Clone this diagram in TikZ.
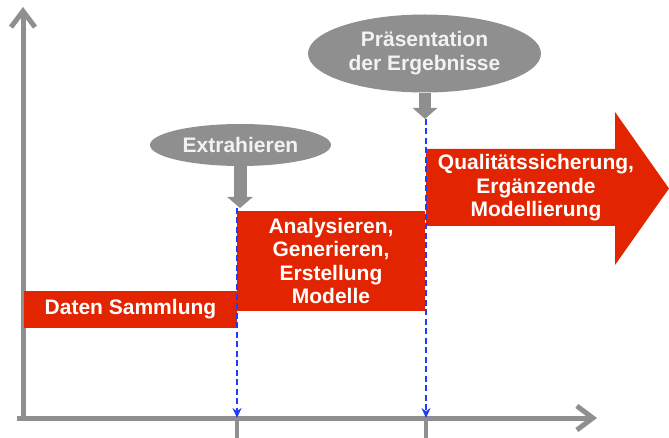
\documentclass[tikz,border=0pt]{standalone}
\usepackage{fontspec}
\setmainfont{Liberation Sans}
\usepackage{tikz}
\usetikzlibrary{positioning,shapes.geometric,arrows.meta,calc}
\definecolor{phasered}{HTML}{E32400}
\definecolor{stepgrey}{HTML}{8F8F8F}
\definecolor{guideblue}{HTML}{1E3CFF}

\begin{document}
\begin{tikzpicture}[x=1pt,y=-1pt,
    phase/.style={rectangle, fill=phasered, text=white, inner sep=0pt, align=center, font=\bfseries\fontsize{21}{23.5}\selectfont},
    milestone/.style={ellipse, fill=stepgrey, text=white!95!black, inner sep=0pt, align=center, font=\bfseries\fontsize{21}{24}\selectfont},
    pointer/.style={draw=stepgrey, line width=13pt, -{Triangle[length=11pt,width=25pt]}},
    axis/.style={draw=stepgrey, line width=5pt},
    guide/.style={draw=guideblue, dash pattern=on 6pt off 3.5pt, -{Stealth[length=10pt,width=9pt]}}]
    \useasboundingbox (0,0) rectangle (669,438);
    % axes
    \coordinate (origin) at (23,418);
    \coordinate (ytop) at (23,7);
    \coordinate (xstart) at (17,418);
    \coordinate (xend) at (597,418);
    \coordinate (tick1) at (237,418);
    \coordinate (tick1end) at (237,438);
    \coordinate (tick2) at (426,418);
    \coordinate (tick2end) at (426,438);
    \draw[axis, -{Straight Barb[length=16pt,width=24pt]}] (origin) -- (ytop);
    \draw[axis, -{Straight Barb[length=16pt,width=24pt]}] (xstart) -- (xend);
    \draw[axis, line width=4pt] (tick1) -- (tick1end);
    \draw[axis, line width=4pt] (tick2) -- (tick2end);
    % phases
    \node[phase, minimum width=213pt, minimum height=37pt] (datensammlung) at (130.5,309.5) {Daten Sammlung};
    \node[phase, minimum width=188pt, minimum height=100pt] (analyse) at (331,261) {Analysieren,\\Generieren,\\Erstellung\\Modelle};
    \fill[phasered] (426,149) -- (615,149) -- (615,112) -- (669,188.5) -- (615,265) -- (615,226) -- (426,226) -- cycle;
    \node[phase, fill=none] (quali) at (536,188) {Qualitätssicherung,\\Ergänzende\\Modellierung};
    % milestones
    \node[milestone, minimum width=181pt, minimum height=42pt] (extrahieren) at (240.5,145) {Extrahieren};
    \node[milestone, minimum width=233pt, minimum height=78pt] (praesentation) at (424.5,53.5) {Präsentation\\der Ergebnisse};
    \coordinate (extrahierentip) at (240,208);
    \coordinate (praesentationtip) at (425,119);
    \draw[pointer] (extrahieren.south -| extrahierentip) -- (extrahierentip);
    \draw[pointer, line width=12pt, -{Triangle[length=11pt,width=24pt]}] (praesentation.south -| praesentationtip) -- (praesentationtip);
    % guides down to the time axis
    \draw[guide, line width=2pt] (extrahierentip -| tick1) -- (tick1);
    \draw[guide, line width=1.1pt] (praesentationtip -| tick2) -- (tick2);
\end{tikzpicture}
\end{document}
